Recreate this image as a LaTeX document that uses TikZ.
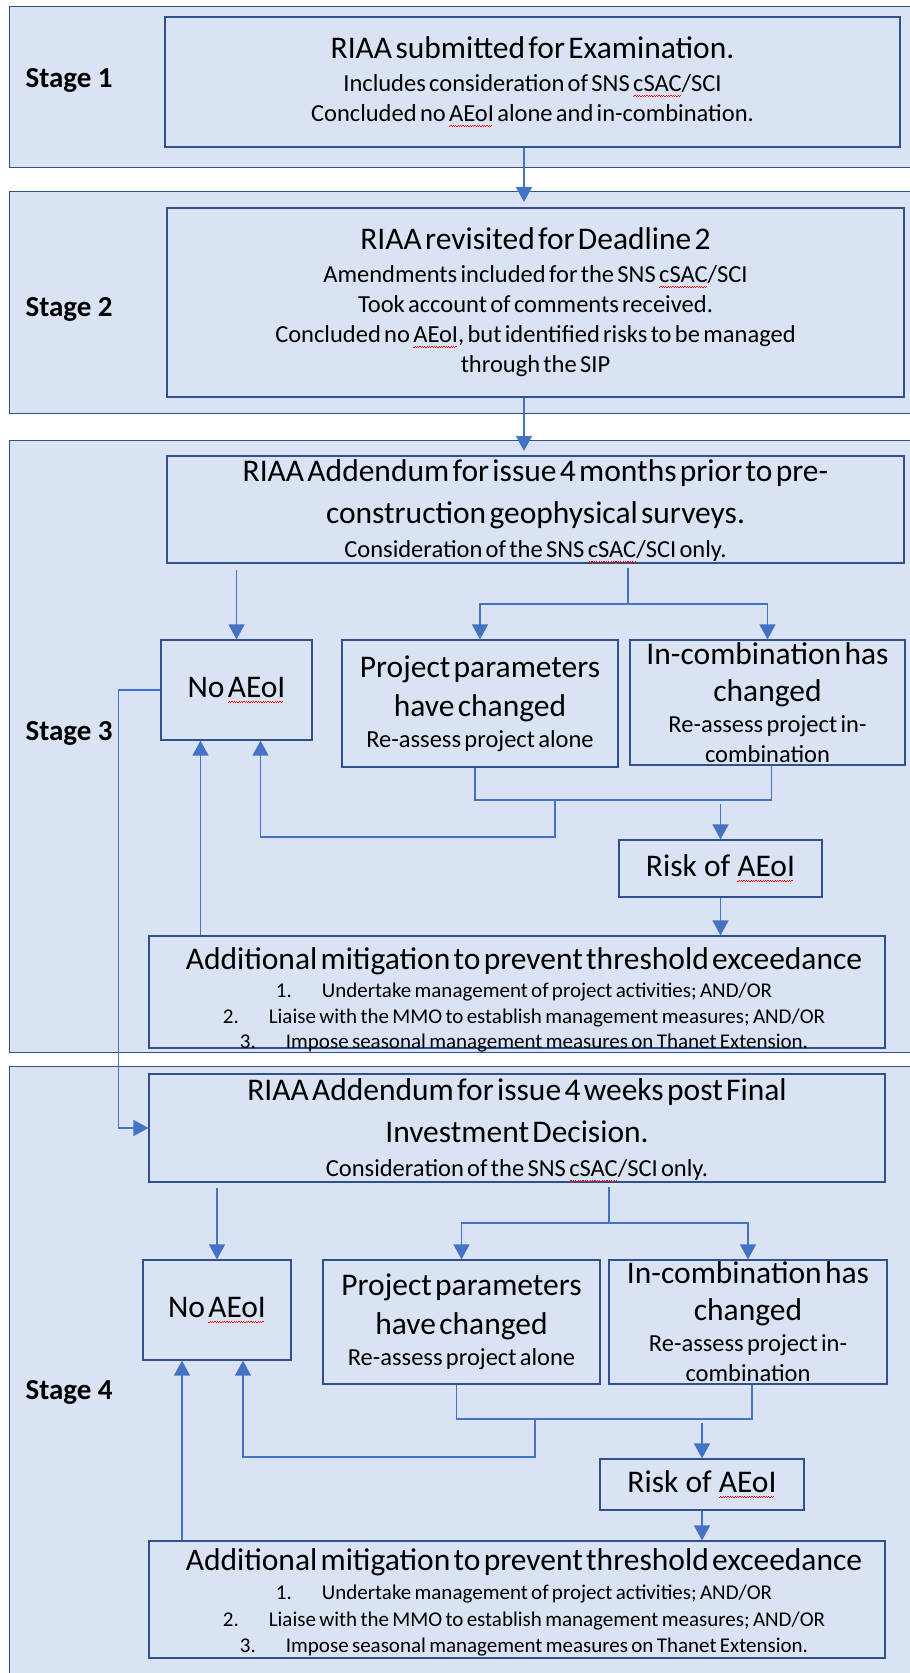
\documentclass[tikz,border=0pt]{standalone}
\usepackage{fontspec}
\setmainfont{Carlito}
\usepackage{tikz}
\usetikzlibrary{arrows.meta,positioning}

\definecolor{boxfill}{HTML}{DAE3F3}
\definecolor{boxline}{HTML}{2F528F}
\definecolor{linkblue}{HTML}{4472C4}

\newsavebox\squigbox
\newcommand\squig[1]{\sbox\squigbox{#1}\rlap{\color{red}\raisebox{-5pt}{\leaders\hbox{\rule{1.2pt}{0.9pt}\raisebox{0.9pt}{\rule{1.2pt}{0.9pt}}}\hskip\wd\squigbox}}#1}
\newcommand\bigtxt{\fontsize{31.5}{39}\selectfont}
\newcommand\smalltxt{\fontsize{24.5}{30}\selectfont}
\newcommand\listtxt{\fontsize{21}{25.5}\selectfont}

\begin{document}
\begin{tikzpicture}[x=1pt, y=-1pt,
    stagebox/.style={draw=boxline, line width=1.3pt, fill=boxfill, anchor=north west, inner sep=0pt},
    box/.style={draw=boxline, line width=1.2pt, fill=boxfill, inner sep=0pt, align=center},
    boxtext/.style={inner sep=0pt, align=center},
    stagelabel/.style={anchor=west, font=\fontsize{29}{34}\selectfont\bfseries},
    link/.style={draw=linkblue, line width=1.3pt},
    flow/.style={link, -{Triangle[width=16pt,length=15pt]}}]
    \useasboundingbox (0,0) rectangle (910,1673);
    \clip (0,0) rectangle (910,1673);
    \fill[white] (0,0) rectangle (910,1673);

    \node (stage1) [stagebox, minimum width=930pt, minimum height=161pt] at (9,6) {};
    \node (stage2) [stagebox, minimum width=930pt, minimum height=222pt] at (9,191) {};
    \node (stage3) [stagebox, minimum width=930pt, minimum height=612pt] at (9,440) {};
    \node (stage4) [stagebox, minimum width=930pt, minimum height=640pt] at (9,1066) {};

    \node (lab1) [stagelabel] at (22,80) {Stage 1};
    \node (lab2) [stagelabel] at (22,309) {Stage 2};
    \node (lab3) [stagelabel] at (22,733) {Stage 3};
    \node (lab4) [stagelabel] at (22,1392) {Stage 4};

    \node (s1box) [box, minimum width=735pt, minimum height=130pt, text width=720pt] at (532.5,82)
        {{\bigtxt RIAA submitted for Examination.\par}\vspace{3pt}\smalltxt Includes consideration of SNS \squig{cSAC}/SCI\\ Concluded no \squig{AEoI} alone and in-combination.\par};
    \node (s2box) [box, minimum width=737pt, minimum height=189pt, text width=720pt] at (535.5,302.5)
        {{\bigtxt RIAA revisited for Deadline 2\par}\vspace{3pt}\smalltxt Amendments included for the SNS \squig{cSAC}/SCI\\ Took account of comments received.\\ Concluded no \squig{AEoI}, but identified risks to be managed\\ through the SIP\par};

    \node (s3top) [box, minimum width=737pt, minimum height=107pt] at (535.5,509.5) {};
    \node (s3toptxt) [boxtext, text width=720pt] at ([shift={(0,2)}]s3top.center)
        {{\bigtxt RIAA Addendum for issue 4 months prior to pre-\\[3pt] construction geophysical surveys.\par}\vspace{4pt}\smalltxt Consideration of the SNS \squig{cSAC}/SCI only.\par};
    \node (no3) [box, minimum width=151pt, minimum height=100pt, text width=145pt] at (236.5,690) {\bigtxt No \squig{AEoI}\par};
    \node (par3) [box, minimum width=276pt, minimum height=127pt, text width=270pt] at (480,703.5)
        {{\bigtxt Project parameters\\ have changed\par}\vspace{1pt}\smalltxt Re-assess project alone\par};
    \node (comb3) [box, minimum width=275pt, minimum height=125pt] at (767.5,702.5) {};
    \node (comb3txt) [boxtext, text width=270pt] at (comb3.center)
        {{\fontsize{31.5}{37}\selectfont In-combination has\\ changed\par}\vspace{1pt}\smalltxt Re-assess project in-\\ combination\par};
    \node (risk3) [box, minimum width=203pt, minimum height=57pt] at (720.5,868.5) {\bigtxt Risk of \squig{AEoI}};
    \node (add3) [box, minimum width=736pt, minimum height=112pt] at (517,992) {};
    \node (add3txt) [boxtext, text width=730pt] at ([shift={(7,8)}]add3.center)
        {{\bigtxt Additional mitigation to prevent threshold exceedance\par}\vspace{3pt}\listtxt
         1.\hspace{30pt}Undertake management of project activities; AND/OR\\
         2.\hspace{30pt}Liaise with the MMO to establish management measures; AND/OR\\
         3.\hspace{30pt}Impose seasonal management measures on Thanet Extension.\par};

    \node (s4top) [box, minimum width=736pt, minimum height=108pt] at (517,1128) {};
    \node (s4toptxt) [boxtext, text width=720pt] at ([shift={(0,2)}]s4top.center)
        {{\bigtxt RIAA Addendum for issue 4 weeks post Final\\[3pt] Investment Decision.\par}\vspace{4pt}\smalltxt Consideration of the SNS \squig{cSAC}/SCI only.\par};
    \node (no4) [box, minimum width=148pt, minimum height=100pt, text width=142pt] at (217,1310) {\bigtxt No \squig{AEoI}\par};
    \node (par4) [box, minimum width=277pt, minimum height=124pt, text width=270pt] at (461.5,1322)
        {{\bigtxt Project parameters\\ have changed\par}\vspace{1pt}\smalltxt Re-assess project alone\par};
    \node (comb4) [box, minimum width=278pt, minimum height=124pt] at (748,1322) {};
    \node (comb4txt) [boxtext, text width=270pt] at (comb4.center)
        {{\fontsize{31.5}{37}\selectfont In-combination has\\ changed\par}\vspace{1pt}\smalltxt Re-assess project in-\\ combination\par};
    \node (risk4) [box, minimum width=204pt, minimum height=51pt] at (702,1484.5) {\bigtxt Risk of \squig{AEoI}};
    \node (add4) [box, minimum width=736pt, minimum height=117pt] at (517,1599.5) {};
    \node (add4txt) [boxtext, text width=730pt] at ([shift={(7,3)}]add4.center)
        {{\bigtxt Additional mitigation to prevent threshold exceedance\par}\vspace{3pt}\fontsize{21}{26.5}\selectfont
         1.\hspace{30pt}Undertake management of project activities; AND/OR\\
         2.\hspace{30pt}Liaise with the MMO to establish management measures; AND/OR\\
         3.\hspace{30pt}Impose seasonal management measures on Thanet Extension.\par};

    \coordinate (in2) at (524,202);
    \coordinate (in3) at (524,451);
    \coordinate (split3) at (628,604);
    \coordinate (merge3) at (555,800);
    \coordinate (split4) at (609,1223);
    \coordinate (merge4) at (535,1419);

    \draw[flow] (s1box.south -| in2) -- (in2);
    \draw[flow] (s2box.south -| in3) -- (in3);

    \draw[flow, shorten <=6pt] (s3top.south -| no3.north) -- (no3.north);
    \draw[link, shorten <=4pt] (s3top.south -| split3) -- (split3);
    \draw[flow] (split3) -| (par3.north);
    \draw[flow] (split3) -| (comb3.north);
    \draw[link] ([xshift=-5pt]par3.south) |- (merge3) -| ([xshift=4pt]comb3.south);
    \draw[flow] (merge3) -- ++(0,37) -| ([xshift=24pt]no3.south);
    \draw[flow, shorten <=4pt] (merge3 -| risk3.north) -- (risk3.north);
    \draw[flow] (risk3.south) -- (risk3.south |- add3.north);
    \draw[flow] ([xshift=-36pt]no3.south |- add3.north) -- ([xshift=-36pt]no3.south);
    \draw[flow] (no3.west) -- ++(-42,0) |- (s4top.west);

    \draw[flow, shorten <=5pt] (s4top.south -| no4.north) -- (no4.north);
    \draw[link, shorten <=4pt] (s4top.south -| split4) -- (split4);
    \draw[flow] (split4) -| (par4.north);
    \draw[flow] (split4) -| (comb4.north);
    \draw[link] ([xshift=-5pt]par4.south) |- (merge4) -| ([xshift=4pt]comb4.south);
    \draw[flow] (merge4) -- ++(0,38) -| ([xshift=26pt]no4.south);
    \draw[flow, shorten <=4pt] (merge4 -| risk4.north) -- (risk4.north);
    \draw[flow] (risk4.south) -- (risk4.south |- add4.north);
    \draw[flow] ([xshift=-35pt]no4.south |- add4.north) -- ([xshift=-35pt]no4.south);
\end{tikzpicture}
\end{document}
